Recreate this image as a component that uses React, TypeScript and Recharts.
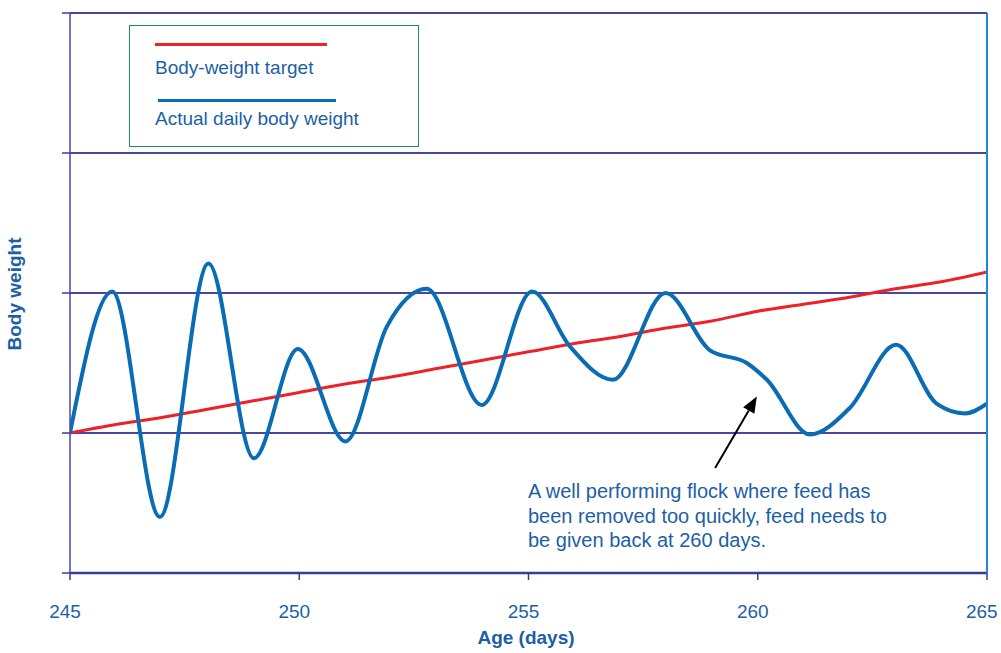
import React from 'react';
import { LineChart, Line, XAxis, YAxis, CartesianGrid, ReferenceLine } from 'recharts';

// Body-weight target (red), one reading per day
const targetDays = [245, 246, 247, 248, 249, 250, 251, 252, 253, 254, 255, 256, 257, 258, 259, 260, 261, 262, 263, 264, 265];
const targetWeight = [1.0, 1.06, 1.11, 1.17, 1.23, 1.29, 1.35, 1.4, 1.46, 1.52, 1.58, 1.64, 1.69, 1.75, 1.8, 1.87, 1.92, 1.97, 2.03, 2.08, 2.15];

// Actual daily body weight (blue)
const actualDays = [245.0, 245.92, 246.96, 248.02, 249.01, 249.97, 251.01, 251.91, 252.78, 253.98, 255.08, 255.9, 256.84, 257.99, 258.96, 259.76, 260.2, 261.14, 262.01, 263.02, 263.9, 264.52, 265.0];
const actualWeight = [1.0, 2.01, 0.4, 2.21, 0.82, 1.6, 0.94, 1.76, 2.03, 1.2, 2.01, 1.62, 1.38, 2.0, 1.59, 1.5, 1.38, 0.99, 1.18, 1.63, 1.21, 1.14, 1.21];

const xTicks = [245, 250, 255, 260, 265];
const yTicks = [0, 1, 2, 3, 4];

const seriesNames = ['Body-weight target', 'Actual daily body weight'];
const seriesColors = ['#ec2228', '#0a6cb4'];

const annotationLines = [
  'A well performing flock where feed has',
  'been removed too quickly, feed needs to',
  'be given back at 260 days.',
];
// arrow from (day, weight) tail to head
const arrowTail = { day: 259.07, w: 0.75 };
const arrowHead = { day: 259.98, w: 1.26 };

const targetData = targetDays.map((d, i) => ({ day: d, target: targetWeight[i] }));
const actualData = actualDays.map((d, i) => ({ day: d, actual: actualWeight[i] }));

const FONT = '"Liberation Sans", Arial, Helvetica, sans-serif';
const TEXT = '#1d5fa6';
const GRID = '#3b3b98';

const NoLabel = () => <g />;

const Arrow = (p: any) => {
  const { x1, y1, x2, y2 } = p;
  if ([x1, y1, x2, y2].some((v) => v == null || isNaN(v))) return null;
  const ang = Math.atan2(y2 - y1, x2 - x1);
  const len = 16;
  const half = 6.5;
  const bx = x2 - len * Math.cos(ang);
  const by = y2 - len * Math.sin(ang);
  const px = -Math.sin(ang);
  const py = Math.cos(ang);
  const pts = `${x2},${y2} ${bx + px * half},${by + py * half} ${bx - px * half},${by - py * half}`;
  return (
    <g>
      <line x1={x1} y1={y1} x2={bx} y2={by} stroke="#000" strokeWidth={2} />
      <polygon points={pts} fill="#000" />
    </g>
  );
};

export default function App() {
  return (
    <div style={{ position: 'absolute', left: 0, top: 0, width: 1001, height: 653, background: '#fff', fontFamily: FONT }}>
      <LineChart width={1001} height={653} margin={{ top: 13, right: 0, bottom: 0, left: 10 }}>
        <CartesianGrid vertical={false} stroke={GRID} strokeWidth={1.5} yAxisId="left" />
        {yTicks.map((v) => (
          <ReferenceLine key={v} yAxisId="left" y={v} stroke={GRID} strokeWidth={1.5} />
        ))}
        <XAxis
          type="number"
          dataKey="day"
          domain={[245, 265]}
          ticks={xTicks}
          allowDataOverflow
          height={80}
          tickSize={7}
          tickMargin={25}
          axisLine={{ stroke: GRID, strokeWidth: 2.5 }}
          tickLine={{ stroke: GRID, strokeWidth: 1.5 }}
          tick={{ fill: TEXT, fontSize: 19, fontFamily: FONT, dx: -5 }}
        />
        <YAxis
          yAxisId="left"
          type="number"
          domain={[0, 4]}
          ticks={yTicks}
          width={60}
          tickSize={8}
          tick={NoLabel}
          axisLine={{ stroke: '#4848a2', strokeWidth: 1.5 }}
          tickLine={{ stroke: GRID, strokeWidth: 1.5 }}
        />
        <YAxis
          yAxisId="right"
          orientation="right"
          type="number"
          domain={[0, 4]}
          ticks={yTicks}
          width={14}
          tickSize={8}
          tick={NoLabel}
          axisLine={{ stroke: '#1e88d8', strokeWidth: 2 }}
          tickLine={{ stroke: GRID, strokeWidth: 1.5 }}
        />
        <Line
          yAxisId="left"
          data={targetData}
          dataKey="target"
          type="monotoneX"
          stroke={seriesColors[0]}
          strokeWidth={3}
          dot={false}
          isAnimationActive={false}
        />
        <Line
          yAxisId="left"
          data={actualData}
          dataKey="actual"
          type="monotoneX"
          stroke={seriesColors[1]}
          strokeWidth={4}
          dot={false}
          isAnimationActive={false}
        />
        <ReferenceLine
          yAxisId="left"
          segment={[
            { x: arrowTail.day, y: arrowTail.w },
            { x: arrowHead.day, y: arrowHead.w },
          ]}
          shape={Arrow}
        />
      </LineChart>

      {/* Legend */}
      <div
        style={{
          position: 'absolute',
          left: 129,
          top: 25,
          width: 290,
          height: 122,
          boxSizing: 'border-box',
          border: '1.5px solid #1b8a6b',
        }}
      />
      <div style={{ position: 'absolute', left: 155, top: 42.5, width: 172, height: 3, background: seriesColors[0] }} />
      <div style={{ position: 'absolute', left: 155, top: 56, fontSize: 19, lineHeight: '24.5px', color: TEXT, whiteSpace: 'nowrap' }}>
        {seriesNames[0]}
      </div>
      <div style={{ position: 'absolute', left: 158, top: 98.5, width: 178, height: 3.5, background: seriesColors[1] }} />
      <div style={{ position: 'absolute', left: 155, top: 107, fontSize: 19, lineHeight: '24.5px', color: TEXT, whiteSpace: 'nowrap' }}>
        {seriesNames[1]}
      </div>

      {/* Annotation */}
      <div style={{ position: 'absolute', left: 528, top: 479, fontSize: 20, lineHeight: '24.5px', color: TEXT, whiteSpace: 'nowrap' }}>
        {annotationLines.map((l, i) => (
          <div key={i}>{l}</div>
        ))}
      </div>

      {/* Axis titles */}
      <div
        style={{
          position: 'absolute',
          left: 15,
          top: 294,
          transform: 'translate(-50%, -50%) rotate(-90deg)',
          fontSize: 19,
          fontWeight: 'bold',
          color: TEXT,
          whiteSpace: 'nowrap',
          lineHeight: '22px',
        }}
      >
        Body weight
      </div>
      <div
        style={{
          position: 'absolute',
          left: 526,
          top: 626,
          transform: 'translateX(-50%)',
          fontSize: 19,
          fontWeight: 'bold',
          color: TEXT,
          whiteSpace: 'nowrap',
          lineHeight: '24.5px',
        }}
      >
        Age (days)
      </div>
    </div>
  );
}
